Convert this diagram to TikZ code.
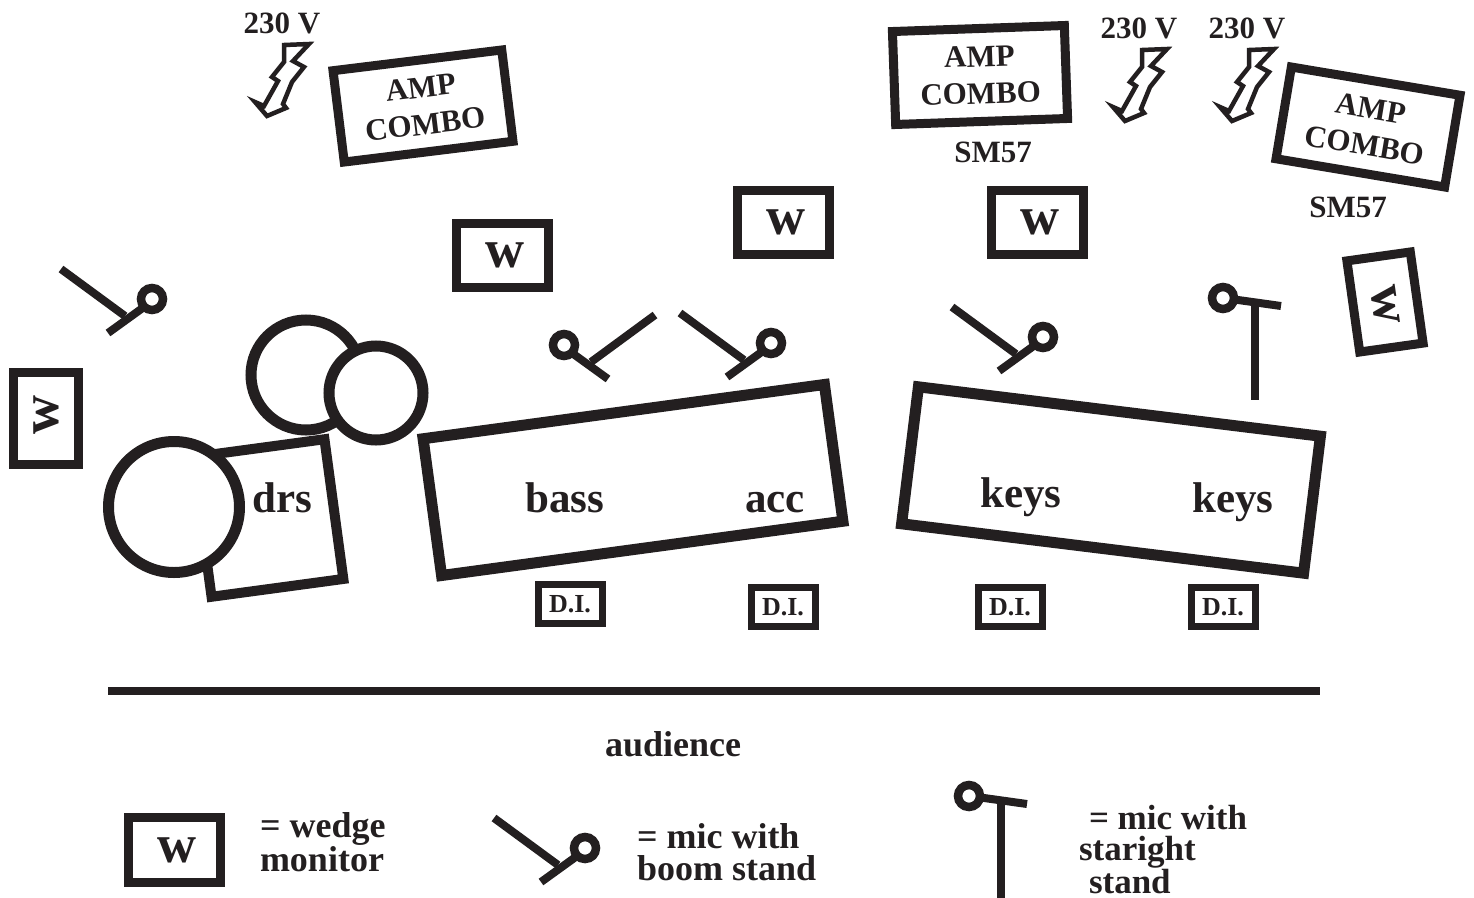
\documentclass[tikz,border=0pt]{standalone}
\usepackage{fontspec}
\setmainfont{Liberation Serif}
\definecolor{ink}{HTML}{231F20}
\newcommand{\fs}[2]{\fontsize{#1}{#2}\selectfont\bfseries}
\newcommand{\wmark}{\hspace{6pt}\raisebox{-3pt}{w}}
\tikzset{
  every node/.style={text=ink,inner sep=0pt,outer sep=0pt},
  box/.style={draw=ink,fill=white,rectangle,align=center},
  ampbox/.style={box,line width=9pt,font=\fs{31}{37}},
  wedge/.style={box,line width=9pt,font=\fs{54}{54}},
  dibox/.style={box,line width=7pt,minimum width=64pt,minimum height=39pt,font=\fs{26}{26}},
  riser/.style={box,line width=11pt,minimum width=405pt,minimum height=138pt},
  drum/.style={draw=ink,fill=white,circle,line width=11pt},
  big/.style={font=\fs{43}{43},anchor=base},
  lab/.style={font=\fs{31}{31},anchor=base},
  legend/.style={font=\fs{36}{32},align=left,anchor=west},
  micline/.style={draw=ink,line width=8pt},
  pics/lightning/.style={code={
    \draw[draw=ink,fill=white,line width=4.5pt,line join=miter]
      (0,0)--(25,-1)--(9,16)--(20,22)--(8,37)--(-1,59)--(2,63)--(-17,71)--(-29,57)--(-20,61)--(-6,36)--(-12,32)--(0,17)--cycle;
  }},
  pics/boommic/.style={code={
    \draw[micline] (-91,-30)--(-27,17);
    \draw[micline] (-44,34)--(-8,8);
    \draw[draw=ink,fill=white,line width=8.5pt] (0,0) circle[radius=11];
  }},
  pics/straightmic/.style={code={
    \draw[micline] (8,1)--(58,8);
    \draw[micline] (32,4)--(32,102);
    \draw[draw=ink,fill=white,line width=8.5pt] (0,0) circle[radius=11];
  }},
}
\begin{document}
\begin{tikzpicture}[x=1pt,y=-1pt]
\useasboundingbox (0,0) rectangle (1474,897);

% amps
\node[ampbox,rotate=7,minimum width=170pt,minimum height=92pt] (amp1) at (423,106) {AMP\\COMBO};
\node[ampbox,rotate=2,minimum width=172pt,minimum height=93pt] (amp2) at (980,75) {AMP\\COMBO};
\node[ampbox,rotate=-9.5,minimum width=171pt,minimum height=93pt] (amp3) at (1368,127) {AMP\\COMBO};

% power
\node[lab] (v1) at (282,33) {230 V};
\node[lab] (v2) at (1139,38) {230 V};
\node[lab] (v3) at (1247,38) {230 V};
\pic at (284,45) {lightning};
\pic at (1142,50) {lightning};
\pic at (1249,50) {lightning};

\node[lab] (sm1) at (993,162) {SM57};
\node[lab] (sm2) at (1348,217) {SM57};

% wedges
\node[wedge,minimum width=92pt,minimum height=64pt] (w1) at (502,255) {\wmark};
\node[wedge,minimum width=92pt,minimum height=64pt] (w2) at (783,222) {\wmark};
\node[wedge,minimum width=92pt,minimum height=64pt] (w3) at (1037,222) {\wmark};
\node[wedge,rotate=90,minimum width=92pt,minimum height=65pt] (w4) at (46,418) {\wmark};
\node[wedge,rotate=-82,minimum width=92pt,minimum height=64pt] (w5) at (1385,302) {\wmark};

% mics
\pic at (152,299) {boommic};
\pic at (771,343) {boommic};
\pic at (1043,337) {boommic};
\pic[xscale=-1] at (564,345) {boommic};
\pic at (1223,298) {straightmic};

% drums
\node[box,line width=10pt,rotate=7.7,minimum width=133pt,minimum height=141pt] (drs) at (268,518) {};
\node[drum,minimum size=110pt] (tom1) at (306,375) {};
\node[drum,minimum size=94pt] (tom2) at (376,393) {};
\node[drum,minimum size=131pt] (kick) at (174,507) {};
\node[big] at (282,512) {drs};

% risers
\node[riser,rotate=7.7] (r1) at (633,480) {};
\node[riser,rotate=-7] (r2) at (1111,480) {};
\node[big] at (565,512) {bass};
\node[big] at (775,512) {acc};
\node[big] at (1021,507) {keys};
\node[big] at (1233,512) {keys};

% DI
\node[dibox] (d1) at (570,604) {D.I.};
\node[dibox] (d2) at (783,607) {D.I.};
\node[dibox] (d3) at (1010,607) {D.I.};
\node[dibox] (d4) at (1223,607) {D.I.};

% stage edge
\coordinate (edgeL) at (108,691);
\coordinate (edgeR) at (1320,691);
\draw[draw=ink,line width=8pt] (edgeL)--(edgeR);
\node[font=\fs{36}{36},anchor=base] (aud) at (673,756) {audience};

% legend
\node[wedge,minimum width=92pt,minimum height=65pt] (lw) at (174,850) {\wmark};
\node[legend] (l1) at (260,842) {= wedge\\monitor};
\pic at (585,848) {boommic};
\node[legend] (l2) at (637,852) {= mic with\\boom stand};
\pic at (969,796) {straightmic};
\node[legend,font=\fs{35}{31}] (l3) at (1079,850) {\hspace{10pt}= mic with\\staright\\\hspace{10pt}stand};
\end{tikzpicture}
\end{document}
